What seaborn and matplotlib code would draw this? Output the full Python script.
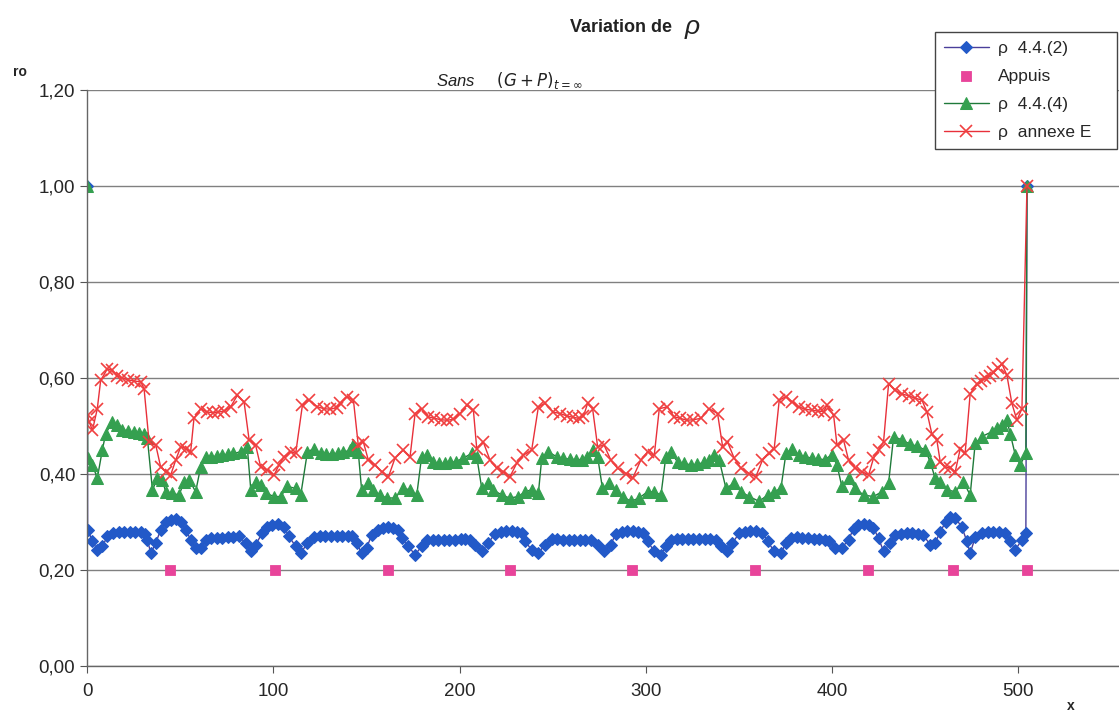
import numpy as np
import pandas as pd
import matplotlib
matplotlib.use("Agg")
from matplotlib import pyplot as plt
from matplotlib.ticker import FuncFormatter
import seaborn as sns

# rho 4.4.(2)  (blue diamonds)
x_rho2 = [0, 0.3, 2.9, 5.5, 8.2, 10.9, 14.0, 17.0, 20.0, 23.0, 26.0, 29.0, 31.0, 32.4, 34.2, 36.9,
          39.5, 42.2, 44.8, 47.5, 50.3, 53.0, 55.6, 58.3, 61.0, 63.7, 66.4, 69.5, 72.5, 75.5, 78.5,
          81.5, 85.2, 87.9, 90.5, 94.1, 96.8, 99.5, 102.5, 105.7, 108.4, 112.0, 114.7, 118.3, 121.9,
          125.0, 128.0, 131.0, 134.0, 137.0, 140.0, 142.5, 144.8, 147.4, 150.1, 152.8, 156.4, 159.0,
          161.5, 164.5, 167.1, 168.9, 172.5, 176.1, 179.6, 182.3, 185.5, 188.5, 191.5, 194.5, 197.5,
          200.5, 203.0, 205.6, 208.3, 211.9, 215.4, 219.0, 222.0, 225.0, 228.0, 231.0, 233.3, 235.1,
          238.7, 242.3, 245.8, 249.4, 252.5, 255.5, 258.5, 261.5, 264.5, 267.5, 270.5, 274.1, 277.6,
          281.2, 283.9, 287.0, 290.0, 293.0, 296.0, 298.2, 300.9, 304.5, 308.1, 310.7, 313.4, 316.5,
          319.5, 322.5, 325.5, 328.5, 331.5, 334.5, 337.6, 340.3, 343.8, 346.5, 350.1, 353.0, 356.0,
          359.0, 362.6, 365.3, 368.9, 372.5, 375.2, 378.0, 381.0, 384.0, 387.0, 390.0, 393.0, 396.0,
          398.5, 401.7, 405.2, 408.8, 411.5, 414.0, 417.0, 420.0, 422.2, 424.9, 427.6, 431.2, 434.0,
          437.0, 440.0, 443.0, 446.0, 449.0, 452.6, 455.3, 458.0, 461.0, 463.5, 466.1, 469.6, 472.3,
          474.1, 476.8, 480.4, 483.5, 486.5, 489.5, 492.9, 495.6, 498.3, 501.9, 504.0, 504.6]
y_rho2 = [1.00, 0.284, 0.260, 0.242, 0.249, 0.270, 0.278, 0.280, 0.280, 0.280, 0.280, 0.279, 0.276,
          0.263, 0.235, 0.256, 0.284, 0.300, 0.305, 0.306, 0.300, 0.284, 0.263, 0.246, 0.246, 0.263,
          0.266, 0.267, 0.267, 0.268, 0.268, 0.270, 0.256, 0.239, 0.253, 0.277, 0.290, 0.294, 0.295,
          0.290, 0.270, 0.249, 0.235, 0.256, 0.268, 0.270, 0.270, 0.270, 0.270, 0.271, 0.271, 0.270,
          0.256, 0.235, 0.246, 0.273, 0.284, 0.288, 0.289, 0.288, 0.284, 0.266, 0.249, 0.232, 0.249,
          0.262, 0.263, 0.263, 0.263, 0.263, 0.263, 0.264, 0.264, 0.263, 0.253, 0.239, 0.256, 0.276,
          0.280, 0.281, 0.281, 0.280, 0.278, 0.260, 0.242, 0.235, 0.253, 0.265, 0.264, 0.263, 0.263,
          0.263, 0.263, 0.263, 0.262, 0.253, 0.239, 0.253, 0.276, 0.280, 0.281, 0.281, 0.280, 0.278,
          0.260, 0.239, 0.232, 0.249, 0.263, 0.264, 0.264, 0.264, 0.264, 0.264, 0.264, 0.264, 0.262,
          0.249, 0.239, 0.256, 0.277, 0.280, 0.281, 0.281, 0.278, 0.260, 0.239, 0.235, 0.256, 0.266,
          0.268, 0.267, 0.266, 0.265, 0.264, 0.262, 0.260, 0.246, 0.246, 0.263, 0.286, 0.293, 0.296,
          0.294, 0.288, 0.266, 0.239, 0.256, 0.273, 0.276, 0.277, 0.277, 0.276, 0.272, 0.253, 0.256,
          0.280, 0.300, 0.311, 0.308, 0.290, 0.260, 0.235, 0.268, 0.277, 0.279, 0.280, 0.280, 0.278,
          0.260, 0.242, 0.263, 0.277, 1.00]

# supports
x_appuis = [44.6, 100.7, 161.4, 227.0, 292.7, 358.6, 419.0, 464.8, 504.6]
y_appuis = [0.20] * len(x_appuis)

# rho 4.4.(4)  (green triangles)
x_rho4 = [0, 0.3, 2.9, 5.5, 8.2, 10.0, 13.6, 16.3, 19.0, 22.0, 25.0, 28.0, 30.6, 32.4, 35.1, 37.8,
          40.4, 42.2, 45.8, 49.4, 52.1, 54.8, 58.3, 61.0, 63.7, 66.4, 69.5, 72.5, 75.5, 78.5, 82.5,
          86.0, 87.9, 90.5, 93.2, 95.9, 100.4, 104.0, 107.5, 112.0, 114.7, 118.3, 121.9, 125.4, 128.5,
          131.5, 134.5, 137.5, 141.2, 143.0, 145.6, 147.4, 151.0, 153.7, 157.3, 160.9, 165.3, 169.8,
          173.4, 177.0, 179.6, 182.3, 185.9, 189.0, 192.0, 195.0, 198.0, 202.0, 206.5, 209.2, 211.9,
          215.4, 218.1, 222.6, 227.0, 231.5, 235.1, 238.7, 242.3, 244.1, 247.6, 252.1, 255.5, 259.0,
          262.5, 265.5, 268.5, 271.4, 274.1, 276.7, 280.3, 283.9, 287.5, 292.0, 296.4, 300.9, 304.5,
          308.1, 310.7, 313.4, 317.0, 320.5, 324.0, 327.5, 331.0, 334.0, 336.7, 339.4, 343.0, 347.4,
          351.0, 355.5, 360.8, 365.3, 368.9, 372.5, 375.2, 378.7, 382.0, 385.5, 389.0, 392.5, 396.0,
          399.9, 402.6, 405.2, 408.8, 412.4, 416.9, 422.2, 426.7, 430.3, 433.0, 437.4, 441.9, 445.5,
          450.0, 452.6, 455.3, 458.0, 461.6, 466.1, 470.5, 474.1, 476.8, 480.4, 485.7, 488.5, 491.1,
          493.8, 495.6, 498.3, 501.0, 504.0, 504.6]
y_rho4 = [1.00, 0.433, 0.419, 0.391, 0.450, 0.484, 0.509, 0.502, 0.492, 0.490, 0.487, 0.486, 0.484,
          0.474, 0.367, 0.391, 0.388, 0.363, 0.360, 0.356, 0.384, 0.388, 0.363, 0.415, 0.436, 0.436,
          0.437, 0.439, 0.441, 0.443, 0.446, 0.457, 0.367, 0.384, 0.377, 0.360, 0.353, 0.353, 0.374,
          0.370, 0.356, 0.446, 0.453, 0.443, 0.441, 0.442, 0.443, 0.445, 0.450, 0.460, 0.446, 0.367,
          0.381, 0.367, 0.356, 0.350, 0.350, 0.370, 0.367, 0.356, 0.436, 0.440, 0.425, 0.422, 0.422,
          0.424, 0.426, 0.433, 0.443, 0.436, 0.370, 0.381, 0.367, 0.356, 0.350, 0.353, 0.363, 0.367,
          0.360, 0.433, 0.446, 0.436, 0.433, 0.431, 0.430, 0.430, 0.436, 0.450, 0.436, 0.370, 0.381,
          0.367, 0.353, 0.343, 0.350, 0.363, 0.363, 0.356, 0.436, 0.446, 0.425, 0.422, 0.419, 0.420,
          0.424, 0.430, 0.440, 0.429, 0.370, 0.381, 0.363, 0.353, 0.343, 0.356, 0.363, 0.370, 0.443,
          0.453, 0.440, 0.436, 0.433, 0.431, 0.430, 0.440, 0.419, 0.374, 0.391, 0.370, 0.356, 0.353,
          0.363, 0.381, 0.478, 0.471, 0.462, 0.458, 0.450, 0.426, 0.391, 0.384, 0.367, 0.363, 0.384,
          0.356, 0.464, 0.478, 0.488, 0.495, 0.502, 0.512, 0.484, 0.440, 0.419, 0.443, 1.00]

# rho annexe E  (red crosses)
x_rhoE = [0.3, 1.1, 2.9, 5.5, 7.3, 10.9, 13.6, 16.3, 19.0, 22.0, 25.0, 28.8, 30.6, 33.3, 36.9, 39.5,
          42.2, 44.9, 47.6, 50.3, 53.0, 55.6, 57.4, 61.0, 64.6, 67.5, 70.5, 73.5, 77.1, 80.7, 84.3,
          87.0, 90.5, 93.2, 96.8, 100.4, 103.1, 105.7, 109.5, 112.0, 115.6, 119.2, 123.6, 127.2,
          130.5, 134.0, 135.8, 139.4, 143.0, 145.6, 148.3, 151.0, 154.6, 158.2, 161.8, 165.3, 169.8,
          173.4, 176.1, 179.6, 183.2, 186.5, 190.0, 193.5, 196.6, 200.2, 203.8, 207.4, 209.2, 212.7,
          216.3, 219.9, 223.5, 227.0, 230.6, 234.2, 238.7, 242.3, 245.8, 250.3, 254.0, 257.5, 261.0,
          264.0, 266.5, 268.7, 271.4, 274.1, 277.6, 281.2, 284.8, 289.3, 292.9, 297.3, 300.9, 304.5,
          307.2, 311.6, 315.2, 318.5, 322.0, 325.5, 329.5, 334.0, 338.5, 341.2, 343.8, 347.4, 351.0,
          355.5, 359.0, 362.6, 366.2, 368.9, 371.6, 375.2, 378.7, 382.0, 385.5, 389.0, 392.5, 395.5,
          397.2, 400.8, 402.6, 406.1, 408.8, 412.4, 416.0, 419.6, 422.2, 424.9, 427.6, 430.3, 433.9,
          437.4, 441.0, 444.5, 448.2, 450.9, 453.5, 456.2, 458.0, 460.7, 463.4, 466.1, 468.8, 471.4,
          474.1, 477.7, 480.0, 482.2, 484.5, 486.6, 489.0, 491.1, 493.8, 496.5, 499.2, 501.9, 504.6]
y_rhoE = [0.522, 0.509, 0.491, 0.536, 0.595, 0.619, 0.616, 0.604, 0.600, 0.596, 0.594, 0.592, 0.578,
          0.467, 0.460, 0.415, 0.405, 0.398, 0.429, 0.457, 0.453, 0.446, 0.516, 0.536, 0.529, 0.528,
          0.529, 0.531, 0.540, 0.564, 0.550, 0.471, 0.460, 0.415, 0.408, 0.398, 0.419, 0.436, 0.446,
          0.443, 0.543, 0.554, 0.540, 0.536, 0.535, 0.538, 0.547, 0.561, 0.554, 0.460, 0.467, 0.429,
          0.419, 0.405, 0.394, 0.433, 0.450, 0.436, 0.526, 0.536, 0.519, 0.516, 0.513, 0.512, 0.514,
          0.526, 0.543, 0.533, 0.453, 0.467, 0.429, 0.412, 0.405, 0.394, 0.422, 0.439, 0.450, 0.540,
          0.547, 0.529, 0.526, 0.521, 0.518, 0.516, 0.520, 0.547, 0.536, 0.457, 0.460, 0.429, 0.412,
          0.401, 0.391, 0.429, 0.446, 0.439, 0.536, 0.540, 0.519, 0.516, 0.512, 0.513, 0.516, 0.536,
          0.526, 0.457, 0.467, 0.433, 0.412, 0.401, 0.394, 0.429, 0.443, 0.453, 0.554, 0.561, 0.550,
          0.540, 0.535, 0.533, 0.531, 0.530, 0.543, 0.522, 0.460, 0.471, 0.429, 0.412, 0.405, 0.398,
          0.433, 0.450, 0.467, 0.588, 0.574, 0.567, 0.563, 0.558, 0.554, 0.529, 0.484, 0.471, 0.426,
          0.415, 0.412, 0.405, 0.453, 0.443, 0.567, 0.588, 0.594, 0.599, 0.605, 0.612, 0.620, 0.630,
          0.606, 0.547, 0.512, 0.536, 1.00]

y_ticks = [0.0, 0.2, 0.4, 0.6, 0.8, 1.0, 1.2]
x_ticks = [0, 100, 200, 300, 400, 500]

sns.set_style("white")
plt.rcParams['font.family'] = ['Liberation Sans', 'DejaVu Sans']

fig = plt.figure(figsize=(11.19, 7.22), dpi=100)
ax = fig.add_axes([0.0778, 0.0776, 0.9222, 0.7977])

ax.grid(axis='y', color='#808080', lw=1)
ax.set_axisbelow(True)

sns.lineplot(x=x_rho2, y=y_rho2, sort=False, estimator=None, ax=ax, color='#4a3f9a', lw=1.0,
             marker='D', markersize=6, markerfacecolor='#2259c8', markeredgecolor='#2259c8',
             label='ρ  4.4.(2)')
sns.scatterplot(x=x_appuis, y=y_appuis, ax=ax, marker='s', s=55, color='#e8449a',
                edgecolor='#e8449a', label='Appuis', zorder=3)
sns.lineplot(x=x_rho4, y=y_rho4, sort=False, estimator=None, ax=ax, color='#1f7a3a', lw=1.0,
             marker='^', markersize=8, markerfacecolor='#35a050', markeredgecolor='#35a050',
             label='ρ  4.4.(4)')
sns.lineplot(x=x_rhoE, y=y_rhoE, sort=False, estimator=None, ax=ax, color='#e8303a', lw=1.0,
             marker='x', markersize=8, markeredgewidth=1.2, markeredgecolor='#f04040',
             label='ρ  annexe E')

ax.set_xlim(0, 554)
ax.set_ylim(0, 1.2)
ax.set_xticks(x_ticks)
ax.set_yticks(y_ticks)
ax.yaxis.set_major_formatter(FuncFormatter(lambda v, p: f"{v:.2f}".replace('.', ',')))
ax.tick_params(axis='both', labelsize=13.5, length=5, color='#555555', direction='out',
               left=True, bottom=True)
ax.tick_params(axis='x', pad=7)
for s in ['top', 'right']:
    ax.spines[s].set_visible(False)
for s in ['left', 'bottom']:
    ax.spines[s].set_color('#666666')
    ax.spines[s].set_linewidth(1)
ax.set_xlabel('')
ax.set_ylabel('')

fig.text(0.6005, 0.962, 'Variation de', fontsize=13, fontweight='bold', ha='right', va='center',
         color='#222222')
fig.text(0.612, 0.962, 'ρ', fontsize=19, style='italic', ha='left', va='center', color='#222222')
fig.text(0.39, 0.888, r'Sans     $(G+P)_{t=\infty}$', fontsize=12, style='italic',
         ha='left', va='center', color='#222222')
fig.text(0.012, 0.9, 'ro', fontsize=10, fontweight='bold', ha='left', va='center')
fig.text(0.953, 0.012, 'x', fontsize=10, fontweight='bold', ha='left', va='bottom')

leg = ax.legend(loc='upper left', bbox_to_anchor=(0.8356, 0.7, 0.1627, 0.2557),
                bbox_transform=fig.transFigure, mode='expand', borderaxespad=0,
                fontsize=12.5, frameon=True, fancybox=False, edgecolor='#444444', framealpha=1,
                handlelength=2.6, borderpad=0.5, labelspacing=0.75, handletextpad=0.5)
leg.get_frame().set_linewidth(1)

fig.savefig('out.png', dpi=100, facecolor='white')
